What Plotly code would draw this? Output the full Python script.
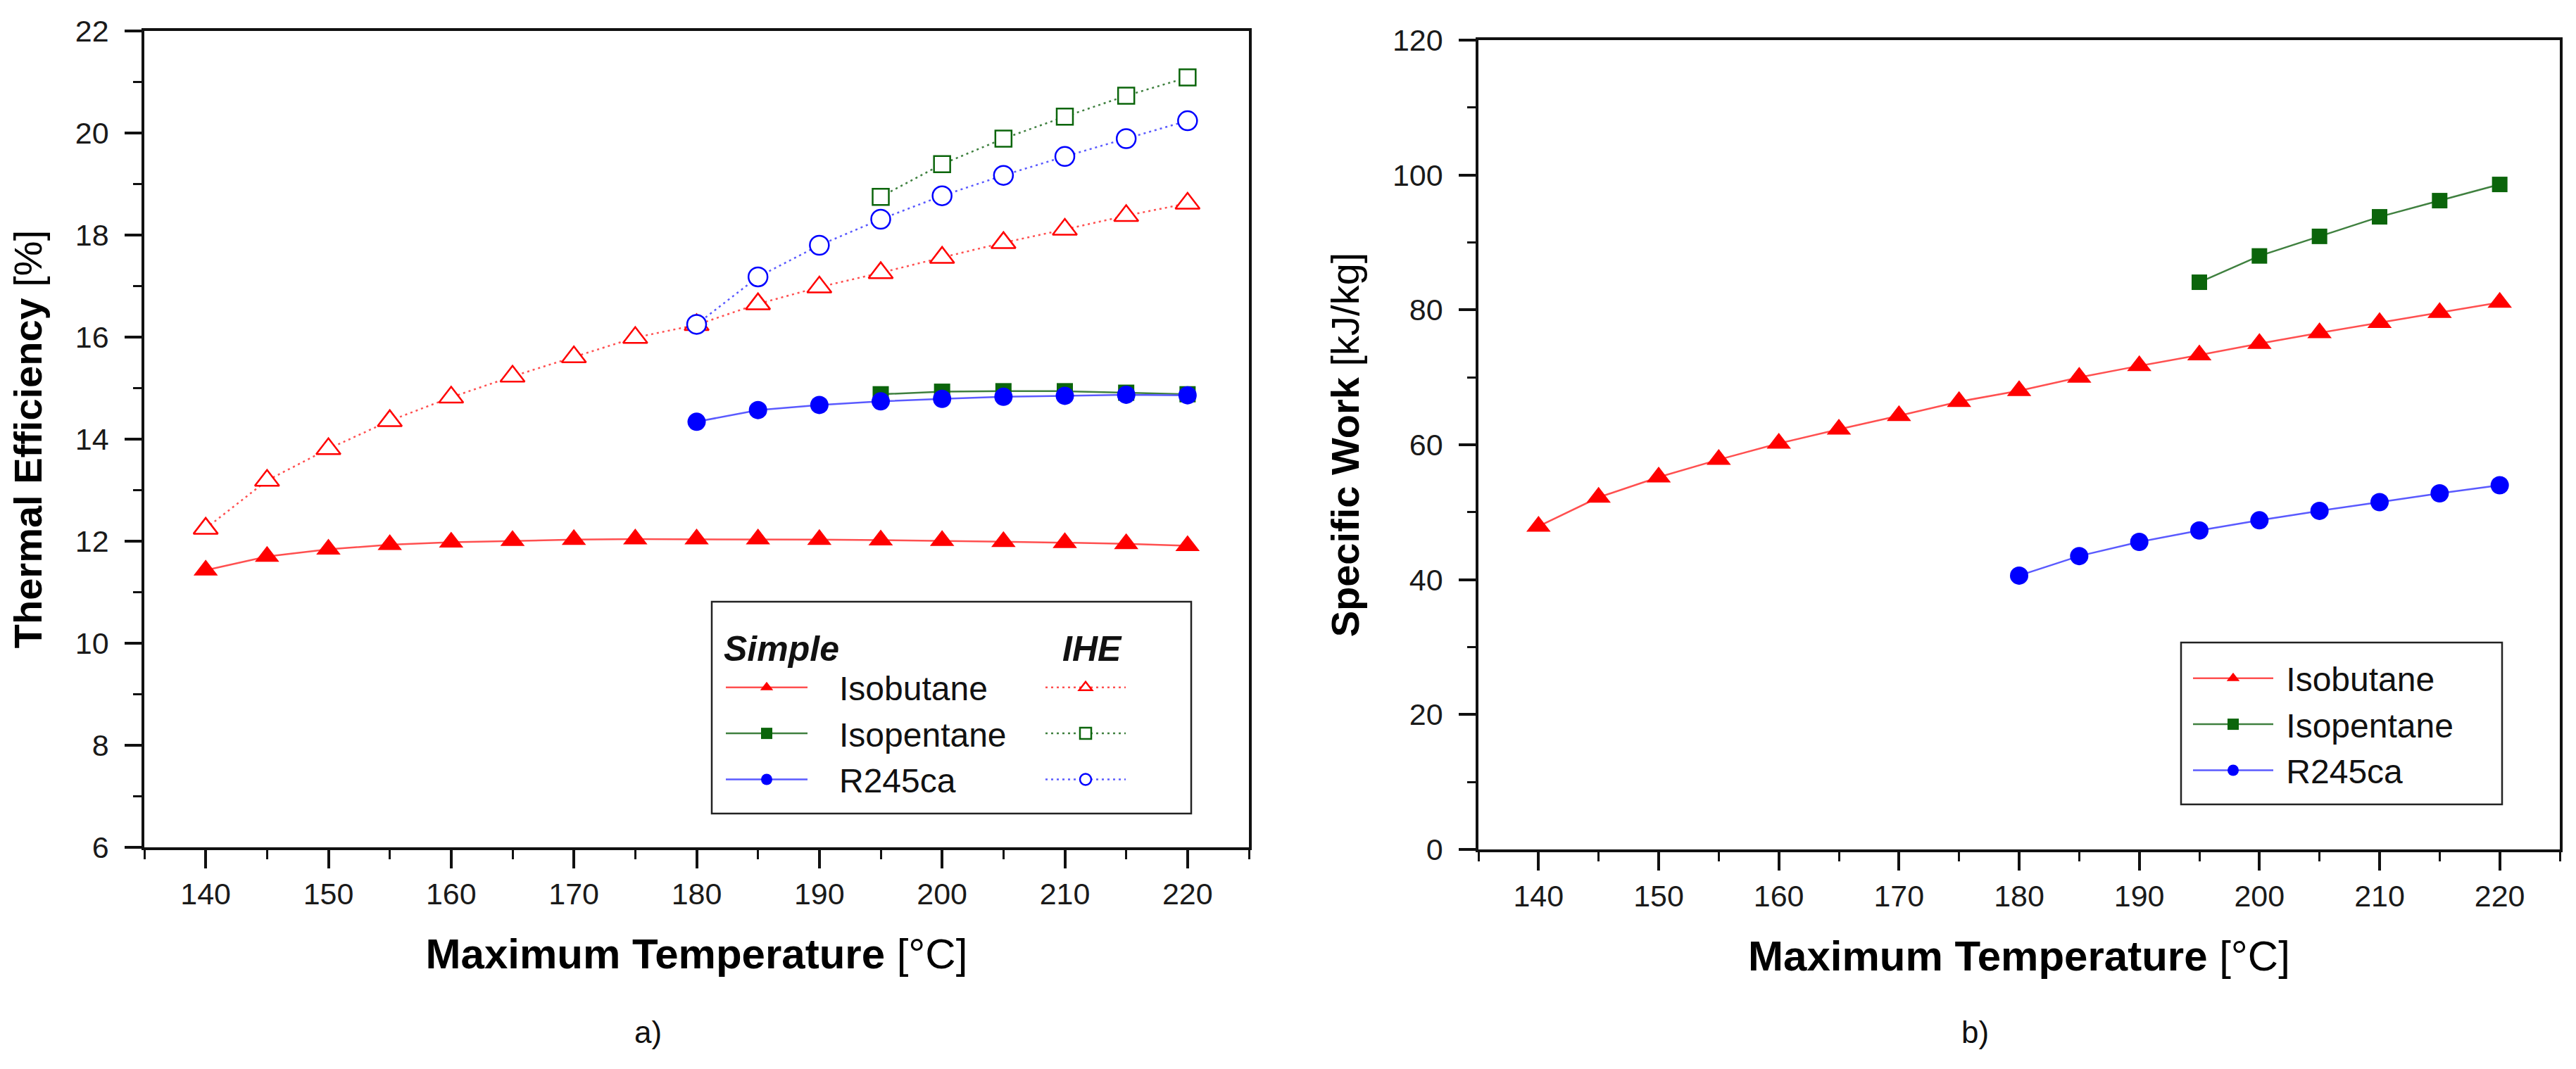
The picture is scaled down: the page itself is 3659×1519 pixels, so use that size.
import plotly.graph_objects as go

# ---------------- data ----------------
temp_isobutane = [140, 145, 150, 155, 160, 165, 170, 175, 180, 185, 190, 195, 200, 205, 210, 215, 220]
temp_isopentane = [195, 200, 205, 210, 215, 220]
temp_r245ca = [180, 185, 190, 195, 200, 205, 210, 215, 220]

eff_simple_isobutane = [11.43, 11.70, 11.84, 11.93, 11.98, 12.01, 12.03, 12.04, 12.04, 12.04, 12.03, 12.02, 12.01, 11.99, 11.97, 11.95, 11.91]
eff_simple_isopentane = [14.88, 14.93, 14.94, 14.94, 14.91, 14.88]
eff_simple_r245ca = [14.34, 14.57, 14.67, 14.74, 14.79, 14.83, 14.85, 14.87, 14.86]

eff_ihe_isobutane = [12.25, 13.19, 13.81, 14.36, 14.82, 15.23, 15.61, 15.99, 16.24, 16.65, 16.98, 17.26, 17.56, 17.85, 18.11, 18.38, 18.62]
eff_ihe_isopentane = [18.75, 19.39, 19.89, 20.32, 20.73, 21.09]
eff_ihe_r245ca = [16.25, 17.18, 17.80, 18.31, 18.77, 19.17, 19.54, 19.89, 20.24]

work_isobutane = [47.9, 52.2, 55.2, 57.8, 60.2, 62.3, 64.3, 66.4, 68.0, 70.0, 71.7, 73.3, 75.0, 76.6, 78.1, 79.6, 81.1]
work_isopentane = [84.1, 88.0, 90.9, 93.8, 96.2, 98.6]
work_r245ca = [40.6, 43.5, 45.6, 47.3, 48.8, 50.2, 51.5, 52.8, 54.0]

fluid_names = ["Isobutane", "Isopentane", "R245ca"]

# ---------------- styling ----------------
W, H = 3659, 1519
OFF = 8  # default page margin around the figure
FONT = "Liberation Sans, Arial, sans-serif"
RED, GREEN, BLUE = "#FF0000", "#0B650B", "#0000FF"
RED_L, GREEN_L, BLUE_L = "#FF5050", "#3F803F", "#5A5AFF"
NB = "\u00a0"


def px_x(p):
    return (p - OFF) / W


def px_y(p):
    return 1 - (p - OFF) / H


fig = go.Figure()

simple_sets = [
    (temp_isobutane, eff_simple_isobutane, "triangle-up", RED, RED_L, 30),
    (temp_isopentane, eff_simple_isopentane, "square", GREEN, GREEN_L, 23),
    (temp_r245ca, eff_simple_r245ca, "circle", BLUE, BLUE_L, 26),
]
ihe_sets = [
    (temp_isobutane, eff_ihe_isobutane, "triangle-up", RED, RED_L, 30),
    (temp_isopentane, eff_ihe_isopentane, "square", GREEN, GREEN_L, 23),
    (temp_r245ca, eff_ihe_r245ca, "circle", BLUE, BLUE_L, 27),
]
work_sets = [
    (temp_isobutane, work_isobutane, "triangle-up", RED, RED_L, 30),
    (temp_isopentane, work_isopentane, "square", GREEN, GREEN_L, 22),
    (temp_r245ca, work_r245ca, "circle", BLUE, BLUE_L, 26),
]

for (x, y, sym, mc, lc, ms), name in zip(ihe_sets, fluid_names):
    fig.add_trace(go.Scatter(
        x=x, y=y, mode="lines+markers", name=NB,
        line=dict(color=lc, width=2.5, dash="3px,5px"),
        marker=dict(symbol=sym, size=ms, color="white", line=dict(width=2.5, color=mc)),
        xaxis="x", yaxis="y", legend="legend2",
    ))

for (x, y, sym, mc, lc, ms), name in zip(simple_sets, fluid_names):
    fig.add_trace(go.Scatter(
        x=x, y=y, mode="lines+markers", name=NB * 3 + name,
        line=dict(color=lc, width=2.5),
        marker=dict(symbol=sym, size=ms, color=mc, line=dict(width=0)),
        xaxis="x", yaxis="y", legend="legend",
    ))

for (x, y, sym, mc, lc, ms), name in zip(work_sets, fluid_names):
    fig.add_trace(go.Scatter(
        x=x, y=y, mode="lines+markers", name=NB + name,
        line=dict(color=lc, width=2.5),
        marker=dict(symbol=sym, size=ms, color=mc, line=dict(width=0)),
        xaxis="x2", yaxis="y2", legend="legend3",
    ))

tick_font = dict(family=FONT, size=43, color="#1a1a1a")
xtitle_font = dict(family=FONT, size=60, color="#000000")
ytitle_font = dict(family=FONT, size=56, color="#000000")
AX = dict(showgrid=False, zeroline=False, showline=True, linecolor="#111", linewidth=3.5,
          mirror=True, ticks="outside", tickcolor="#111", tickwidth=3.5, tickfont=tick_font,
          automargin=False)

dom_x1 = [px_x(205), px_x(1774)]
dom_y1 = [px_y(1204), px_y(44)]
dom_x2 = [px_x(2100), px_x(3636)]
dom_y2 = [px_y(1207), px_y(57)]

overlay = dict(showgrid=False, zeroline=False, showline=False, showticklabels=False,
               ticks="inside", tickcolor="#111", tickwidth=3.5, automargin=False)

leg_font = dict(family=FONT, size=48, color="#111")

fig.update_layout(
    template="none",
    width=W, height=H,
    margin=dict(l=0, r=0, t=0, b=0, autoexpand=False),
    paper_bgcolor="white", plot_bgcolor="white",
    font=dict(family=FONT, color="#000"),
    xaxis=dict(AX, domain=dom_x1, anchor="y", range=[135, 225], tickmode="linear", tick0=140, dtick=10,
               ticklen=26, ticklabelstandoff=0,
               minor=dict(ticks="outside", tick0=135, dtick=5, ticklen=13, tickwidth=3, tickcolor="#111"),
               title=dict(text="<b>Maximum Temperature</b> [°C]", font=xtitle_font, standoff=42)),
    yaxis=dict(AX, domain=dom_y1, anchor="x", range=[6, 22], tickmode="linear", tick0=6, dtick=2,
               ticklen=24, ticklabelstandoff=14,
               minor=dict(ticks="outside", tick0=6, dtick=1, ticklen=12, tickwidth=3, tickcolor="#111"),
               title=dict(text="<b>Thermal Efficiency</b> [%]", font=ytitle_font, standoff=30)),
    xaxis2=dict(AX, domain=dom_x2, anchor="y2", range=[135, 225], tickmode="linear", tick0=140, dtick=10,
                ticklen=26, ticklabelstandoff=0,
                minor=dict(ticks="outside", tick0=135, dtick=5, ticklen=13, tickwidth=3, tickcolor="#111"),
                title=dict(text="<b>Maximum Temperature</b> [°C]", font=xtitle_font, standoff=42)),
    yaxis2=dict(AX, domain=dom_y2, anchor="x2", range=[0, 120], tickmode="linear", tick0=0, dtick=20,
                ticklen=24, ticklabelstandoff=14,
                minor=dict(ticks="outside", tick0=0, dtick=10, ticklen=12, tickwidth=3, tickcolor="#111"),
                title=dict(text="<b>Specific Work</b> [kJ/kg]", font=ytitle_font, standoff=30)),
    # inward ticks on top / right edges
    xaxis3=dict(overlay, overlaying="x", side="top", anchor="y", range=[135, 225],
                tickmode="linear", tick0=140, dtick=10, ticklen=24),
    yaxis3=dict(overlay, overlaying="y", side="right", anchor="x", range=[6, 22],
                tickmode="linear", tick0=6, dtick=1, ticklen=25),
    xaxis4=dict(overlay, overlaying="x2", side="top", anchor="y2", range=[135, 225],
                tickmode="linear", tick0=140, dtick=10, ticklen=24,
                minor=dict(ticks="inside", tick0=135, dtick=5, ticklen=12, tickwidth=3, tickcolor="#111")),
    yaxis4=dict(overlay, overlaying="y2", side="right", anchor="x2", range=[0, 120],
                tickmode="linear", tick0=0, dtick=20, ticklen=24,
                minor=dict(ticks="inside", tick0=0, dtick=10, ticklen=12, tickwidth=3, tickcolor="#111")),
    legend=dict(x=px_x(1026), y=px_y(874), xanchor="left", yanchor="top",
                bgcolor="rgba(0,0,0,0)", borderwidth=0, itemwidth=116, tracegroupgap=0,
                font=leg_font,
                title=dict(text="<b><i>Simple</i></b>", font=dict(leg_font, size=50))),
    legend2=dict(x=px_x(1480), y=px_y(874), xanchor="left", yanchor="top",
                 bgcolor="rgba(0,0,0,0)", borderwidth=0, itemwidth=114, tracegroupgap=0,
                 font=leg_font,
                 title=dict(text="<b><i>IHE</i></b>", side="top center", font=dict(leg_font, size=50))),
    legend3=dict(x=px_x(3110), y=px_y(926), xanchor="left", yanchor="top",
                 bgcolor="rgba(0,0,0,0)", borderwidth=0, itemwidth=114, tracegroupgap=0,
                 font=leg_font),
    shapes=[
        dict(type="rect", xref="paper", yref="paper", x0=px_x(1011), x1=px_x(1692),
             y0=px_y(1156), y1=px_y(855), line=dict(color="#222", width=2.5)),
        dict(type="rect", xref="paper", yref="paper", x0=px_x(3098), x1=px_x(3554),
             y0=px_y(1143), y1=px_y(913), line=dict(color="#222", width=2.5)),
    ],
    annotations=[
        dict(text="a)", xref="paper", yref="paper", x=px_x(920), y=px_y(1466),
             xanchor="center", yanchor="middle",
             showarrow=False, font=dict(family=FONT, size=44, color="#111")),
        dict(text="b)", xref="paper", yref="paper", x=px_x(2805), y=px_y(1466),
             xanchor="center", yanchor="middle",
             showarrow=False, font=dict(family=FONT, size=44, color="#111")),
    ],
)

fig.write_html("out.html")
